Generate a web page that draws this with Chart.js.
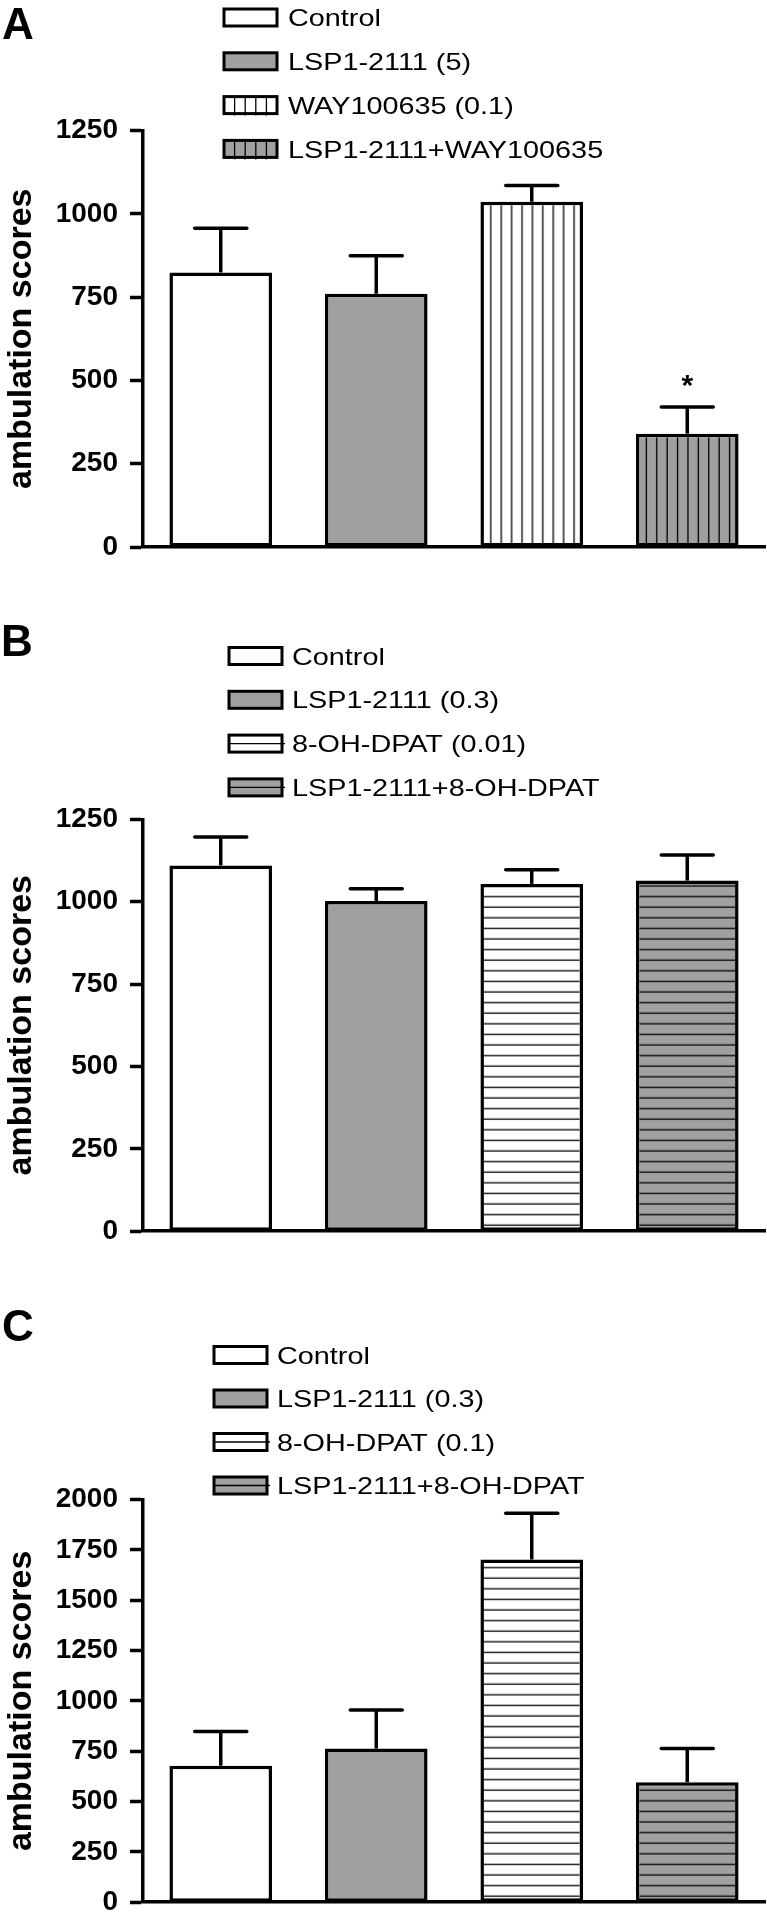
<!DOCTYPE html>
<html>
<head>
<meta charset="utf-8">
<script src="https://cdn.jsdelivr.net/npm/chart.js@4.4.1/dist/chart.umd.min.js"></script>
<style>
  html, body { margin: 0; padding: 0; background: #fff; }
  body { width: 767px; height: 1931px; position: relative; overflow: hidden; }
  .panel { position: absolute; left: 0; width: 767px; }
  .panel canvas { display: block; }
</style>
</head>
<body>
<div class="panel" style="top:0px"><canvas id="chartA" width="767" height="580"></canvas></div>
<div class="panel" style="top:600px"><canvas id="chartB" width="767" height="660"></canvas></div>
<div class="panel" style="top:1265px"><canvas id="chartC" width="767" height="666"></canvas></div>
<script>
const FONT = "'Liberation Sans', Arial, Helvetica, sans-serif";
const GRAY = '#a0a0a0';

// --- Data ---
const groupsA = ['Control', 'LSP1-2111 (5)', 'WAY100635 (0.1)', 'LSP1-2111+WAY100635'];
const meansA = [824, 760, 1036, 340];
const semA = [133, 114, 49, 80];
const marksA = ['', '', '', '*'];
const ticksA = [0, 250, 500, 750, 1000, 1250];

const groupsB = ['Control', 'LSP1-2111 (0.3)', '8-OH-DPAT (0.01)', 'LSP1-2111+8-OH-DPAT'];
const meansB = [1110, 1002, 1054, 1064];
const semB = [86, 37, 43, 78];
const ticksB = [0, 250, 500, 750, 1000, 1250];

const groupsC = ['Control', 'LSP1-2111 (0.3)', '8-OH-DPAT (0.1)', 'LSP1-2111+8-OH-DPAT'];
const meansC = [678, 763, 1702, 596];
const semC = [170, 192, 230, 167];
const ticksC = [0, 250, 500, 750, 1000, 1250, 1500, 1750, 2000];

const fillsA = ['plain', 'gray', 'vline', 'vline-gray'];
const fillsBC = ['plain', 'gray', 'hline', 'hline-gray'];

const VSTEP = 10.4;  // spacing of vertical hatch lines
const HSTEP = 10.6;  // spacing of horizontal hatch lines

function makePattern(kind) {
  const c = document.createElement('canvas');
  const g = c.getContext('2d');
  const bg = kind.endsWith('gray') ? GRAY : '#fff';
  if (kind.startsWith('vline')) {
    c.width = 104; c.height = 4;
    g.fillStyle = bg; g.fillRect(0, 0, c.width, c.height);
    g.fillStyle = '#000';
    for (let i = 1; i < 10; i++) g.fillRect(i * VSTEP - 0.65, 0, 1.3, c.height);
  } else {
    c.width = 4; c.height = 53;
    g.fillStyle = bg; g.fillRect(0, 0, c.width, c.height);
    g.fillStyle = '#000';
    for (let i = 0; i < 5; i++) g.fillRect(0, i * HSTEP + 5 - 0.65, c.width, 1.3);
  }
  return g.createPattern(c, 'repeat');
}

function fillFor(kind) {
  if (kind === 'plain') return '#fff';
  if (kind === 'gray') return GRAY;
  return makePattern(kind);
}

// keep hatch lines anchored to each bar's own edges
const alignPatterns = {
  id: 'alignPatterns',
  beforeDatasetsDraw(chart) {
    chart.getDatasetMeta(0).data.forEach(el => {
      const bg = el.options.backgroundColor;
      if (bg instanceof CanvasPattern) {
        const p = el.getProps(['x', 'base', 'width'], true);
        bg.setTransform(new DOMMatrix().translate(p.x - p.width / 2, p.base));
      }
    });
  }
};

const errBars = {
  id: 'errBars',
  afterDatasetsDraw(chart, args, opts) {
    const { ctx } = chart;
    const y = chart.scales.y;
    const ds = chart.data.datasets[0];
    ctx.save();
    ctx.strokeStyle = '#000';
    ctx.fillStyle = '#000';
    ctx.lineWidth = 3.5;
    chart.getDatasetMeta(0).data.forEach((el, i) => {
      const top = y.getPixelForValue(ds.data[i] + opts.sem[i]);
      ctx.lineCap = 'butt';
      ctx.beginPath();
      ctx.moveTo(el.x, el.y);
      ctx.lineTo(el.x, top);
      ctx.stroke();
      ctx.lineCap = 'round';
      ctx.beginPath();
      ctx.moveTo(el.x - 26, top);
      ctx.lineTo(el.x + 26, top);
      ctx.stroke();
      const mark = opts.marks ? opts.marks[i] : '';
      if (mark) {
        ctx.font = `bold 30px ${FONT}`;
        ctx.textAlign = 'center';
        ctx.textBaseline = 'alphabetic';
        ctx.fillText(mark, el.x, top - 12);
      }
    });
    ctx.restore();
  }
};

const sideLegend = {
  id: 'sideLegend',
  afterDraw(chart, args, opts) {
    const { ctx } = chart;
    ctx.save();
    // panel letter
    ctx.fillStyle = '#000';
    ctx.font = `bold 44px ${FONT}`;
    ctx.textAlign = 'left';
    ctx.textBaseline = 'alphabetic';
    ctx.fillText(opts.tag, opts.tagX, opts.tagY);

    chart.data.labels.forEach((label, i) => {
      const cy = opts.y0 + i * opts.dy;
      const x = opts.x, w = 53, h = 17, top = cy - h / 2;
      const kind = opts.kinds[i];
      ctx.fillStyle = kind.endsWith('gray') ? GRAY : '#fff';
      ctx.fillRect(x, top, w, h);
      ctx.strokeStyle = '#000';
      ctx.lineWidth = 1.3;
      if (kind.startsWith('vline')) {
        for (let k = 1; k < 5; k++) {
          ctx.beginPath();
          ctx.moveTo(x + k * 10.6, top);
          ctx.lineTo(x + k * 10.6, top + h + 2);
          ctx.stroke();
        }
      } else if (kind.startsWith('hline')) {
        ctx.beginPath();
        ctx.moveTo(x, cy);
        ctx.lineTo(x + w + 3, cy);
        ctx.stroke();
      }
      ctx.lineWidth = 3;
      ctx.strokeRect(x, top, w, h);

      ctx.fillStyle = '#000';
      ctx.font = `24px ${FONT}`;
      ctx.save();
      ctx.translate(opts.tx, cy + 8.6);
      ctx.scale(1.2, 1);
      ctx.fillText(label, 0, 0);
      ctx.restore();
    });
    ctx.restore();
  }
};

function makeChart(id, cfg) {
  return new Chart(document.getElementById(id), {
    type: 'bar',
    data: {
      labels: cfg.labels,
      datasets: [{
        data: cfg.values,
        backgroundColor: cfg.kinds.map(fillFor),
        borderColor: '#000',
        borderWidth: 3.5,
        borderSkipped: false,
        barPercentage: 0.66,
        categoryPercentage: 1.0
      }]
    },
    options: {
      responsive: false,
      animation: false,
      layout: { padding: { top: cfg.padTop, bottom: cfg.padBottom, left: 0, right: 2 } },
      scales: {
        x: {
          type: 'category',
          offset: true,
          ticks: { display: false },
          grid: { display: false },
          border: { display: true, color: '#000', width: 3.5 },
          afterFit: s => { s.height = 10; }
        },
        y: {
          min: 0,
          max: cfg.ticks[cfg.ticks.length - 1],
          afterBuildTicks: s => { s.ticks = cfg.ticks.map(v => ({ value: v })); },
          ticks: {
            color: '#000', padding: 12,
            font: { family: FONT, weight: 'bold', size: 28 },
            callback: v => String(v)
          },
          grid: { drawOnChartArea: false, drawTicks: true, tickLength: 13, tickWidth: 3.5, tickColor: '#000' },
          border: { display: true, color: '#000', width: 3.5 },
          title: {
            display: true, text: 'ambulation scores', color: '#000',
            font: { family: FONT, weight: 'bold', size: 34 },
            padding: { top: 1, bottom: 0 }
          },
          afterFit: s => { s.width = 143; }
        }
      },
      plugins: {
        legend: { display: false },
        tooltip: { enabled: false },
        errBars: { sem: cfg.sem, marks: cfg.marks },
        sideLegend: cfg.legend
      }
    },
    plugins: [alignPatterns, errBars, sideLegend]
  });
}

makeChart('chartA', {
  labels: groupsA, values: meansA, sem: semA, marks: marksA, ticks: ticksA, kinds: fillsA,
  padTop: 130.5, padBottom: 23,
  legend: { tag: 'A', tagX: 2, tagY: 39, x: 224, y0: 17.5, dy: 43.8, tx: 288, kinds: fillsA }
});

makeChart('chartB', {
  labels: groupsB, values: meansB, sem: semB, ticks: ticksB, kinds: fillsBC,
  padTop: 219.3, padBottom: 14,
  legend: { tag: 'B', tagX: 1, tagY: 56, x: 229, y0: 56, dy: 43.8, tx: 292, kinds: fillsBC }
});

makeChart('chartC', {
  labels: groupsC, values: meansC, sem: semC, ticks: ticksC, kinds: fillsBC,
  padTop: 234.5, padBottom: 2.5,
  legend: { tag: 'C', tagX: 2, tagY: 76, x: 214, y0: 90, dy: 43.5, tx: 277, kinds: fillsBC }
});
</script>
</body>
</html>
